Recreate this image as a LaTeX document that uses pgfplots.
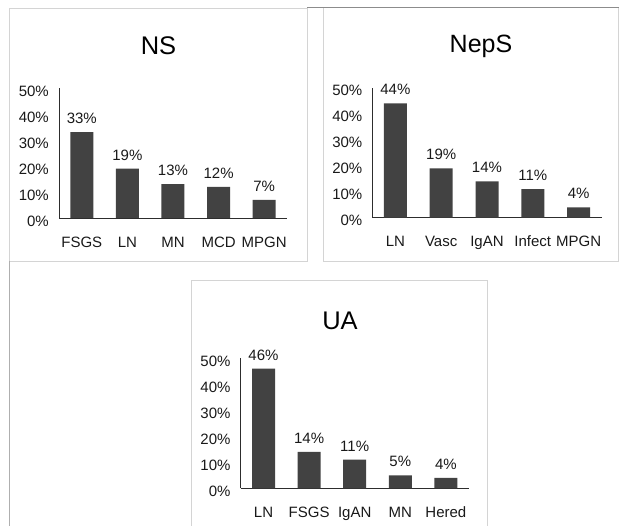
\documentclass[border=0pt]{standalone}
\usepackage{fontspec}
\setmainfont{Liberation Sans}
\usepackage{pgfplots}
\pgfplotsset{compat=1.18}

\definecolor{barc}{RGB}{66,66,66}
\definecolor{axc}{RGB}{45,45,45}
\definecolor{boxc}{RGB}{212,212,212}
\definecolor{linec}{RGB}{175,175,175}
\definecolor{topc}{RGB}{140,140,140}

\pgfplotsset{
  panel/.style={
    scale only axis, width=228pt, height=130pt,
    anchor=south west,
    xmin=-0.5, xmax=4.5, ymin=0, ymax=50,
    axis x line*=bottom, axis y line*=left,
    axis line style={axc, line width=0.8pt},
    major tick length=0pt,
    ytick={0,10,20,30,40,50},
    yticklabel={\pgfmathprintnumber{\tick}\%},
    xtick={0,1,2,3,4},
    /pgf/number format/assume math mode=true,
    tick label style={font=\fontsize{15}{18}\selectfont, text=black!90},
    yticklabel style={anchor=east, inner sep=0pt, xshift=-10pt, yshift=-3pt},
    xticklabel style={anchor=north, inner sep=0pt, text height=11pt, text depth=3pt, yshift=-18pt},
    ybar, bar width=23pt, clip=false,
    nodes near coords={\pgfmathprintnumber{\pgfplotspointmeta}\%},
    every node near coord/.append style={font=\fontsize{15}{18}\selectfont, text=black!90, anchor=base, inner sep=0pt, yshift=8.5pt},
  },
  panelbar/.style={fill=barc, draw=none},
}

\begin{document}
\begin{tikzpicture}[x=1pt,y=1pt]
\useasboundingbox (0pt,0pt) rectangle (619pt,526pt);

% frames
\draw[boxc, line width=0.9pt] (9.5pt,518pt) rectangle (307pt,265pt);
\draw[linec, line width=0.9pt] (9.5pt,265pt) -- (9.5pt,0pt);
\draw[boxc, line width=0.9pt] (323.5pt,518pt) -- (323.5pt,265pt) -- (618pt,265pt) -- (618pt,518pt);
\draw[topc, line width=1pt] (307pt,518pt) -- (619pt,518pt);
\draw[boxc, line width=0.9pt] (191.5pt,-2pt) -- (191.5pt,246pt) -- (487pt,246pt) -- (487pt,-2pt);

% titles
\node[anchor=base, inner sep=0pt, font=\fontsize{25.5}{30}\selectfont] at (158.5pt,471pt) {NS};
\node[anchor=base, inner sep=0pt, font=\fontsize{25}{30}\selectfont] at (481pt,473pt) {NepS};
\node[anchor=base, inner sep=0pt, font=\fontsize{25.5}{30}\selectfont] at (340pt,196pt) {UA};

% NS
\begin{axis}[panel, at={(59pt,308pt)}, xticklabels={FSGS,LN,MN,MCD,MPGN}]
\addplot[panelbar] coordinates {(0,33) (1,19) (2,13) (3,12) (4,7)};
\end{axis}

% NepS
\begin{axis}[panel, at={(372.5pt,308.3pt)}, width=229pt, xticklabels={LN,Vasc,IgAN,Infect,MPGN}]
\addplot[panelbar] coordinates {(0,44) (1,19) (2,14) (3,11) (4,4)};
\end{axis}

% UA
\begin{axis}[panel, at={(240.7pt,37.7pt)}, xticklabels={LN,FSGS,IgAN,MN,Hered}]
\addplot[panelbar] coordinates {(0,46) (1,14) (2,11) (3,5) (4,4)};
\end{axis}
\end{tikzpicture}
\end{document}
